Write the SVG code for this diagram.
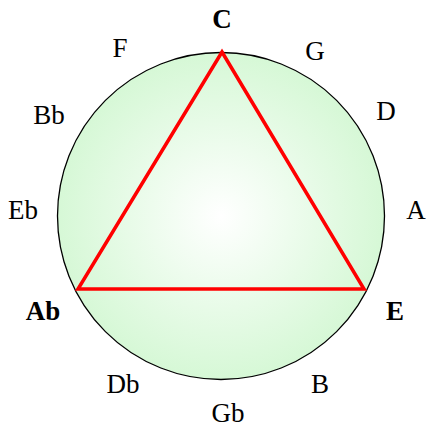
<svg xmlns="http://www.w3.org/2000/svg" width="432" height="433" viewBox="0 0 432 433">
<defs>
<radialGradient id="g" cx="0.5" cy="0.5" r="0.5">
<stop offset="0" stop-color="#ffffff"/>
<stop offset="1" stop-color="#d6f8d6"/>
</radialGradient>
<style>
text{font-family:"Liberation Serif","Times New Roman",serif;font-size:27px;text-anchor:middle;fill:#000}
.b{font-weight:bold}
</style>
</defs>
<rect width="432" height="433" fill="#fff"/>
<g id="circle"><circle cx="221" cy="216" r="163.5" fill="url(#g)" stroke="#000" stroke-width="1.3"/></g>
<g id="connectors"><polygon points="222,52 78,289 364,289" fill="none" stroke="#ff0000" stroke-width="3.5" stroke-linejoin="miter"/></g>
<g id="labels">
<g id="n-C"><text class="b" x="222" y="28">C</text></g>
<g id="n-G"><text x="315" y="60">G</text></g>
<g id="n-D"><text x="386" y="120">D</text></g>
<g id="n-A"><text x="416" y="219">A</text></g>
<g id="n-E"><text class="b" x="395" y="320">E</text></g>
<g id="n-B"><text x="320" y="393">B</text></g>
<g id="n-Gb"><text x="228" y="422">Gb</text></g>
<g id="n-Db"><text x="123" y="393">Db</text></g>
<g id="n-Ab"><text class="b" x="43" y="320">Ab</text></g>
<g id="n-Eb"><text x="23" y="219">Eb</text></g>
<g id="n-Bb"><text x="49" y="124">Bb</text></g>
<g id="n-F"><text x="120" y="57">F</text></g>
</g>
</svg>
